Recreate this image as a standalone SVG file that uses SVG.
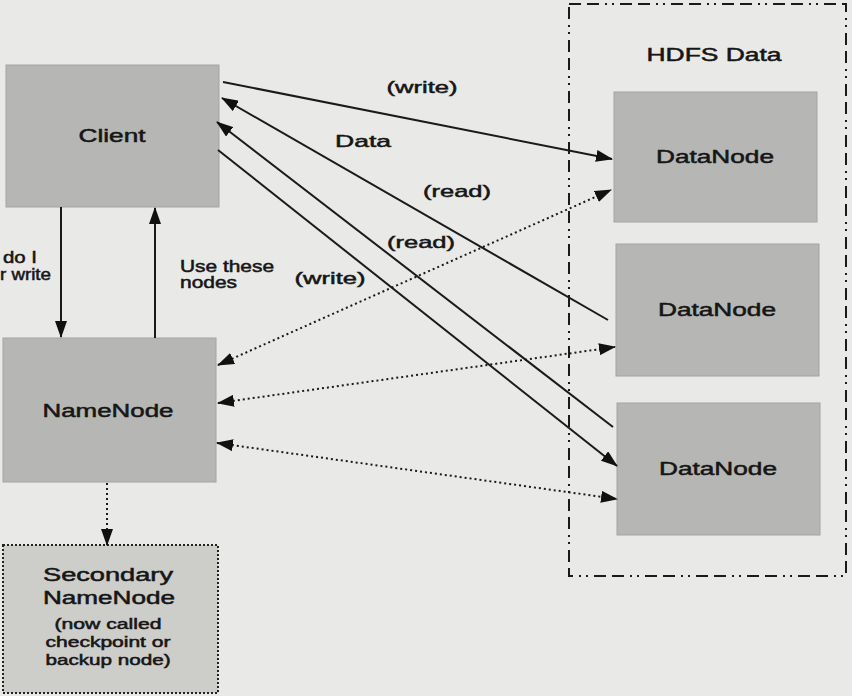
<svg xmlns="http://www.w3.org/2000/svg" width="852" height="696" viewBox="0 0 852 696">
<style>
  .bg { fill: #e9e9e8; }
  .box { fill: #b6b6b5; stroke: #a4a4a3; stroke-width: 1; }
  .sec { fill: #cdcdca; stroke: #222; stroke-width: 2; stroke-dasharray: 2 2; }
  .hdfs { fill: none; stroke: #1a1a1a; stroke-width: 2; stroke-dasharray: 12 6 12 6 2 5 2 6; }
  .t { font-family: "Liberation Sans", Arial, sans-serif; fill: #161616; stroke: #161616; stroke-width: 0.5; }
  .node { font-size: 18px; text-anchor: middle; }
  .small { font-size: 14px; }
  .lbl { font-size: 17px; text-anchor: middle; }
  .side { font-size: 16px; }
  .solid { fill: none; stroke: #1a1a1a; stroke-width: 2; }
  .dot { fill: none; stroke: #1a1a1a; stroke-width: 2; stroke-dasharray: 2 3; }
</style>
<defs>
  <marker id="ah" markerUnits="userSpaceOnUse" markerWidth="18" markerHeight="12" refX="16" refY="6" orient="auto-start-reverse">
    <path d="M0,0 L17,6 L0,12 Z" fill="#111"/>
  </marker>
</defs>
<rect class="bg" x="0" y="0" width="852" height="696"/>

<g id="hdfs-data">
  <rect class="hdfs" x="569" y="4" width="277" height="572"/>
  <text class="t node" x="714" y="61" textLength="135" lengthAdjust="spacingAndGlyphs">HDFS Data</text>
</g>

<g id="client">
  <rect class="box" x="6" y="65" width="213" height="142"/>
  <text class="t node" x="112" y="142" textLength="67" lengthAdjust="spacingAndGlyphs">Client</text>
</g>

<g id="namenode">
  <rect class="box" x="3" y="338" width="213" height="144"/>
  <text class="t node" x="108" y="417" textLength="131" lengthAdjust="spacingAndGlyphs">NameNode</text>
</g>

<g id="secondary-namenode">
  <rect class="sec" x="3" y="545" width="215" height="148"/>
  <text class="t node" x="108" y="581" textLength="130" lengthAdjust="spacingAndGlyphs">Secondary</text>
  <text class="t node" x="109" y="604" textLength="132" lengthAdjust="spacingAndGlyphs">NameNode</text>
  <text class="t node small" x="108" y="629" textLength="107" lengthAdjust="spacingAndGlyphs">(now called</text>
  <text class="t node small" x="108" y="647" textLength="125" lengthAdjust="spacingAndGlyphs">checkpoint or</text>
  <text class="t node small" x="108" y="665" textLength="125" lengthAdjust="spacingAndGlyphs">backup node)</text>
</g>

<g id="datanode1">
  <rect class="box" x="614" y="92" width="203" height="130"/>
  <text class="t node" x="715" y="163" textLength="118" lengthAdjust="spacingAndGlyphs">DataNode</text>
</g>

<g id="datanode2">
  <rect class="box" x="616" y="244" width="203" height="132"/>
  <text class="t node" x="717" y="316" textLength="118" lengthAdjust="spacingAndGlyphs">DataNode</text>
</g>

<g id="datanode3">
  <rect class="box" x="617" y="403" width="203" height="132"/>
  <text class="t node" x="718" y="475" textLength="118" lengthAdjust="spacingAndGlyphs">DataNode</text>
</g>

<g id="connectors">
  <line class="solid" x1="61" y1="207" x2="61" y2="337" marker-end="url(#ah)"/>
  <line class="solid" x1="155" y1="338" x2="155" y2="208" marker-end="url(#ah)"/>
  <line class="dot" x1="107" y1="483" x2="107" y2="545" marker-end="url(#ah)"/>

  <line class="solid" x1="223" y1="82" x2="612" y2="159" marker-end="url(#ah)"/>
  <line class="solid" x1="608" y1="320" x2="222" y2="98" marker-end="url(#ah)"/>
  <line class="solid" x1="613" y1="427" x2="217" y2="122" marker-end="url(#ah)"/>
  <line class="solid" x1="218" y1="150" x2="617" y2="466" marker-end="url(#ah)"/>

  <line class="dot" x1="218" y1="365" x2="611" y2="190" marker-start="url(#ah)" marker-end="url(#ah)"/>
  <line class="dot" x1="218" y1="403" x2="615" y2="347" marker-start="url(#ah)" marker-end="url(#ah)"/>
  <line class="dot" x1="217" y1="443" x2="617" y2="499" marker-start="url(#ah)" marker-end="url(#ah)"/>
</g>

<g id="labels">
  <text class="t lbl" x="422" y="93" textLength="71" lengthAdjust="spacingAndGlyphs">(write)</text>
  <text class="t lbl" x="363" y="147" textLength="56" lengthAdjust="spacingAndGlyphs">Data</text>
  <text class="t lbl" x="457" y="197" textLength="68" lengthAdjust="spacingAndGlyphs">(read)</text>
  <text class="t lbl" x="421" y="248" textLength="68" lengthAdjust="spacingAndGlyphs">(read)</text>
  <text class="t lbl" x="330" y="284" textLength="71" lengthAdjust="spacingAndGlyphs">(write)</text>
  <text class="t side" x="180" y="272" textLength="94" lengthAdjust="spacingAndGlyphs">Use these</text>
  <text class="t side" x="180" y="288" textLength="57" lengthAdjust="spacingAndGlyphs">nodes</text>
  <text class="t side" x="3" y="263" textLength="34" lengthAdjust="spacingAndGlyphs">do I</text>
  <text class="t side" x="0" y="280" textLength="51" lengthAdjust="spacingAndGlyphs">r write</text>
</g>
</svg>
